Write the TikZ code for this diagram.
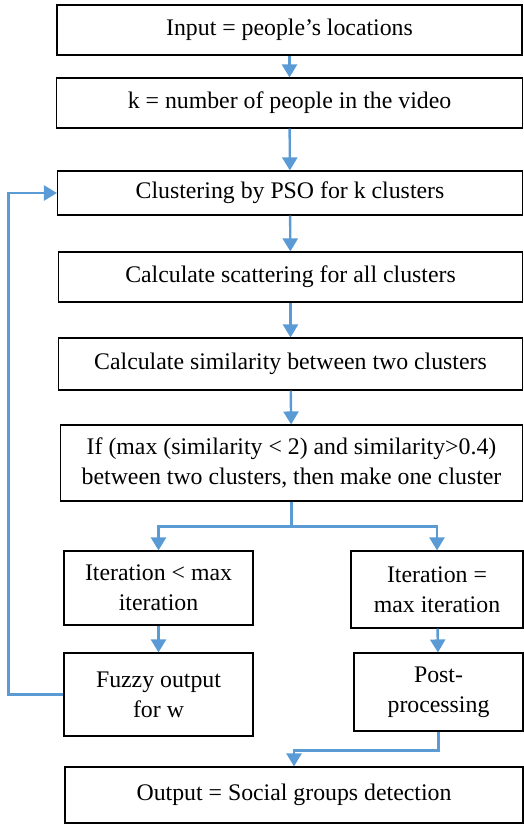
\documentclass[tikz,border=0pt]{standalone}
\usepackage{fontspec}
\setmainfont{Liberation Serif}
\usepackage{tikz}
\usetikzlibrary{positioning,arrows.meta}
\definecolor{flowblue}{HTML}{5B9BD5}

\begin{document}
\begin{tikzpicture}[
  x=1pt, y=-1pt,
  stepbox/.style={draw,line width=1.1pt,align=center,inner sep=2pt,
    font=\fontsize{23.8}{30}\selectfont},
  flow/.style={draw=flowblue,line width=2.4pt,
    -{Triangle[width=15pt,length=13pt]}}
]
\useasboundingbox (0,0) rectangle (524,824);
\node[stepbox,minimum width=465pt,minimum height=50pt] (inp) at (289.5,30) {Input = people’s locations};
\node[stepbox,minimum width=466pt,minimum height=50pt] (knum) at (289.5,103) {k = number of people in the video};
\node[stepbox,minimum width=465pt,minimum height=44pt] (clus) at (290,193) {Clustering by PSO for k clusters};
\node[stepbox,minimum width=464pt,minimum height=50pt] (scat) at (290.5,277) {Calculate scattering for all clusters};
\node[stepbox,minimum width=464pt,minimum height=52pt] (simi) at (290.5,364) {Calculate similarity between two clusters};
\node[stepbox,minimum width=462pt,minimum height=76pt] (cond) at (291.5,463) {If (max (similarity < 2) and similarity>0.4)\\between two clusters, then make one cluster};
\node[stepbox,minimum width=189pt,minimum height=74pt] (itl) at (158.5,588) {Iteration < max\\iteration};
\node[stepbox,minimum width=172pt,minimum height=77pt] (itr) at (437,589.5) {Iteration =\\max iteration};
\node[stepbox,minimum width=189pt,minimum height=83pt] (fuz) at (158.5,694.5) {Fuzzy output\\for w};
\node[stepbox,minimum width=169pt,minimum height=78pt] (post) at (438.5,692) {Post-\\processing};
\node[stepbox,minimum width=458pt,minimum height=56pt] (outp) at (294,795) {Output = Social groups detection};

\path[flow] (inp) -- (knum);
\path[flow] (knum) -- (clus);
\path[flow] (clus) -- (scat);
\path[flow] (scat) -- (simi);
\path[flow] (simi) -- (cond);
\path[flow] (cond.south) -- ++(0,25) -| (itl.north);
\path[flow] (cond.south) -- ++(0,25) -| (itr.north);
\path[flow] (itl) -- (fuz);
\path[flow] (itr) -- (post);
\path[flow] (post.south) -- ++(0,19) -| (outp.north);
\path[flow] (fuz.west) -- ++(-55,0) |- (clus.west);
\end{tikzpicture}
\end{document}
